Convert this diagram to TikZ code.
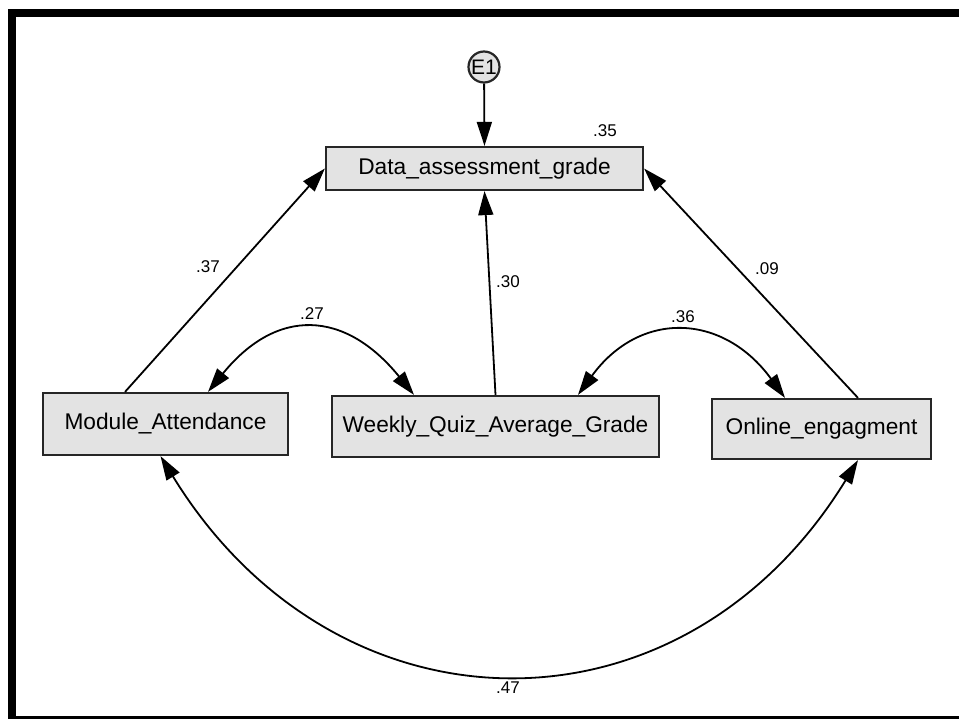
\documentclass[tikz,border=0pt]{standalone}
\usepackage{fontspec}
\setmainfont{Liberation Sans}
\usetikzlibrary{arrows.meta}
\tikzset{
  obs/.style={draw=black!85,line width=2.2pt,fill=black!11,inner sep=0pt,
    font=\fontsize{22.7}{27}\selectfont},
  err/.style={circle,draw=black!85,line width=2.2pt,fill=black!11,inner sep=0pt,
    minimum size=31pt,font=\fontsize{21}{24}\selectfont},
  regr/.style={line width=1.8pt,-{Triangle[length=24pt,width=15pt]}},
  cov/.style={line width=1.8pt,{Triangle[length=24pt,width=15pt]}-{Triangle[length=24pt,width=15pt]}},
  coef/.style={font=\fontsize{17}{20}\selectfont,inner sep=0pt}
}
\begin{document}
\begin{tikzpicture}[x=1pt,y=-1pt]
  \clip (0,0) rectangle (959,719);
  \fill[white] (0,0) rectangle (959,719);
  % outer frame, cut at the right
  \draw[line width=8pt] (12,13) rectangle (975,720);
  % variables
  \node[err] (e1) at (484,67) {E1};
  \node[obs,minimum width=317pt,minimum height=43pt] (data) at (484.5,168.5) {Data\_assessment\_grade};
  \node[obs,minimum width=245pt,minimum height=62pt] (mod) at (165.5,424) {Module\_Attendance};
  \node[obs,minimum width=327pt,minimum height=61pt] (quiz) at (495.5,426.5) {Weekly\_Quiz\_Average\_Grade};
  \node[obs,minimum width=219pt,minimum height=60pt] (onl) at (821.5,429) {Online\_engagment};
  % regression paths
  \draw[regr] (e1) -- (data.north);
  \draw[regr] ([xshift=-40.5pt]mod.north) -- (data.west);
  \draw[regr] (quiz.north) -- (data.south);
  \draw[regr] ([xshift=36.5pt]onl.north) -- (data.east);
  % covariances
  \draw[cov] ([xshift=42.5pt]mod.north) .. controls +(69,-85) and +(-69,-85) .. ([xshift=-81.5pt]quiz.north);
  \draw[cov] ([xshift=82.5pt]quiz.north) .. controls +(62,-85) and +(-62,-85) .. ([xshift=-36.5pt]onl.north);
  \draw[cov] ([xshift=-5pt]mod.south) .. controls +(176,287) and +(-176,287) .. ([xshift=36.5pt]onl.south);
  % estimates
  \node[coef] (r2) at (605,131) {.35};
  \node[coef] (b1) at (208,267) {.37};
  \node[coef] (b2) at (508,282) {.30};
  \node[coef] (b3) at (767,269) {.09};
  \node[coef] (c1) at (312,314) {.27};
  \node[coef] (c2) at (683,317) {.36};
  \node[coef] (c3) at (508,688) {.47};
\end{tikzpicture}
\end{document}
